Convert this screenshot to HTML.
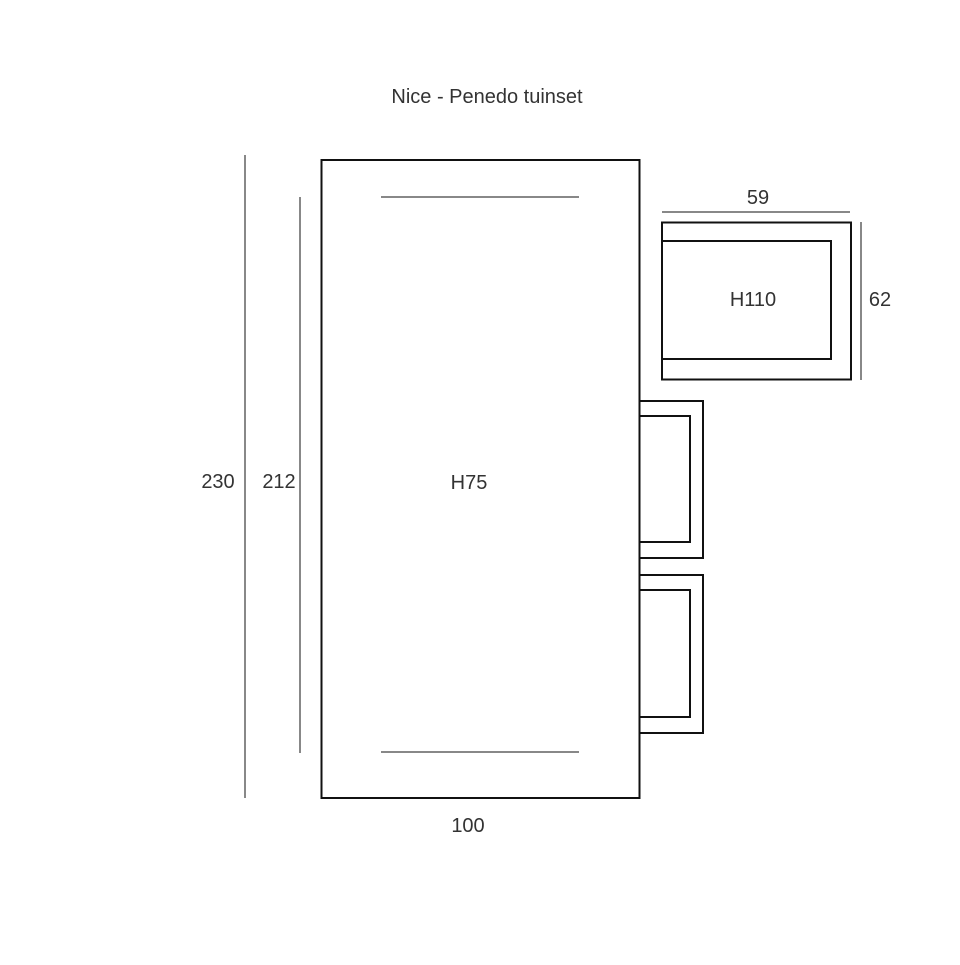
<!DOCTYPE html>
<html><head><style>body{margin:0;background:#fff}</style></head><body>
<svg width="960" height="960" viewBox="0 0 960 960" xmlns="http://www.w3.org/2000/svg" font-family="Liberation Sans, sans-serif" fill="none" stroke="#111">
<rect width="960" height="960" fill="#fff" stroke="none"/>
<text x="487" y="103" font-size="20" text-anchor="middle" fill="#333" stroke="none">Nice - Penedo tuinset</text>
<rect x="321.5" y="160" width="318" height="638" stroke-width="2"/>
<line x1="381" y1="197" x2="579" y2="197" stroke-width="1"/>
<line x1="381" y1="752" x2="579" y2="752" stroke-width="1"/>
<line x1="245" y1="155" x2="245" y2="798" stroke-width="1"/>
<line x1="300" y1="197" x2="300" y2="753" stroke-width="1"/>
<text x="218" y="488" font-size="20" text-anchor="middle" fill="#333" stroke="none">230</text>
<text x="279" y="488" font-size="20" text-anchor="middle" fill="#333" stroke="none">212</text>
<text x="469" y="489" font-size="20" text-anchor="middle" fill="#333" stroke="none">H75</text>
<text x="468" y="832" font-size="20" text-anchor="middle" fill="#333" stroke="none">100</text>
<rect x="662" y="222.5" width="189" height="157" stroke-width="2"/>
<polyline points="662,241 831,241 831,359 662,359" stroke-width="2"/>
<line x1="662" y1="212" x2="850" y2="212" stroke-width="1"/>
<line x1="861" y1="222" x2="861" y2="380" stroke-width="1"/>
<text x="758" y="204" font-size="20" text-anchor="middle" fill="#333" stroke="none">59</text>
<text x="880" y="306" font-size="20" text-anchor="middle" fill="#333" stroke="none">62</text>
<text x="753" y="306" font-size="20" text-anchor="middle" fill="#333" stroke="none">H110</text>
<polyline points="640,401 703,401 703,558 640,558" stroke-width="2"/>
<polyline points="640,416 690,416 690,542 640,542" stroke-width="2"/>
<polyline points="640,575 703,575 703,733 640,733" stroke-width="2"/>
<polyline points="640,590 690,590 690,717 640,717" stroke-width="2"/>
</svg>
</body></html>
